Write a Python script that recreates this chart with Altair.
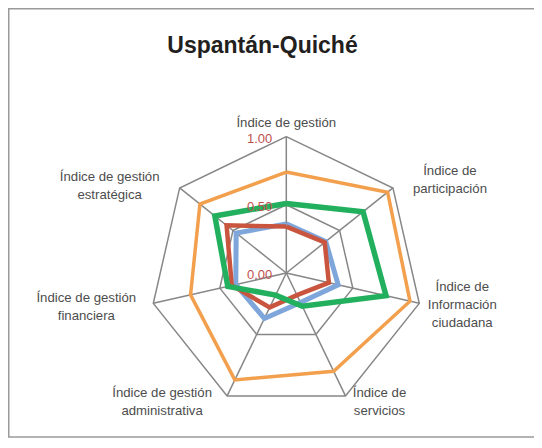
import altair as alt
import pandas as pd

# ---------------- data ----------------
categories = [
    "Índice de gestión",
    "Índice de participación",
    "Índice de Información ciudadana",
    "Índice de servicios",
    "Índice de gestión administrativa",
    "Índice de gestión financiera",
    "Índice de gestión estratégica",
]
axis_labels = [
    "Índice de gestión",
    "Índice de\nparticipación",
    "Índice de\nInformación\nciudadana",
    "Índice de\nservicios",
    "Índice de gestión\nadministrativa",
    "Índice de gestión\nfinanciera",
    "Índice de gestión\nestratégica",
]
series_names = ["Serie 1", "Serie 2", "Serie 3", "Serie 4"]
serie_orange = [0.74, 0.95, 0.93, 0.80, 0.87, 0.72, 0.81]
serie_green = [0.51, 0.72, 0.75, 0.27, 0.18, 0.44, 0.67]
serie_red = [0.34, 0.36, 0.32, 0.18, 0.28, 0.41, 0.56]
serie_blue = [0.36, 0.37, 0.39, 0.24, 0.37, 0.38, 0.47]
ring_levels = [0.5, 1.0]
tick_values = [0.0, 0.5, 1.0]
tick_labels = ["0.00", "0.50", "1.00"]
title_text = "Uspantán-Quiché"

# ---------------- layout ----------------
W, H = 526, 430
N = len(categories)
R = 136.4
CX, CY = 278.3, 265.0
xdom = [-CX / R, (W - CX) / R]
ydom = [-(H - CY) / R, CY / R]
xs = alt.Scale(domain=xdom, nice=False, zero=False)
ys = alt.Scale(domain=ydom, nice=False, zero=False)
FONT = "Liberation Sans"
LINE_H = 18

ANG = f"datum.idx * 2 * PI / {N}"


def polygon_rows(values, name):
    rows = []
    for k in range(N + 1):
        rows.append({"idx": k % N, "ord": k, "value": values[k % N], "serie": name})
    return rows


def series_layer(values, name, color, width):
    df = pd.DataFrame(polygon_rows(values, name))
    return (
        alt.Chart(df)
        .transform_calculate(
            px=f"datum.value * sin({ANG})", py=f"datum.value * cos({ANG})"
        )
        .mark_line(color=color, strokeWidth=width, strokeJoin="miter", clip=False)
        .encode(
            x=alt.X("px:Q", scale=xs, axis=None),
            y=alt.Y("py:Q", scale=ys, axis=None),
            order="ord:Q",
        )
    )


GRID = "#878787"

# rings
ring_rows = []
for lv in ring_levels:
    for k in range(N + 1):
        ring_rows.append({"idx": k % N, "ord": k, "value": lv, "ring": str(lv)})
rings = (
    alt.Chart(pd.DataFrame(ring_rows))
    .transform_calculate(px=f"datum.value * sin({ANG})", py=f"datum.value * cos({ANG})")
    .mark_line(color=GRID, strokeWidth=1.5)
    .encode(
        x=alt.X("px:Q", scale=xs, axis=None),
        y=alt.Y("py:Q", scale=ys, axis=None),
        detail="ring:N",
        order="ord:Q",
    )
)

# spokes
spoke_df = pd.DataFrame({"idx": list(range(N)), "cat": categories})
spokes = (
    alt.Chart(spoke_df)
    .transform_calculate(
        x0="0", y0="0", x1=f"sin({ANG})", y1=f"cos({ANG})"
    )
    .mark_rule(color=GRID, strokeWidth=1.5)
    .encode(
        x=alt.X("x0:Q", scale=xs, axis=None),
        y=alt.Y("y0:Q", scale=ys, axis=None),
        x2="x1:Q",
        y2="y1:Q",
    )
)

# axis category labels (pixel nudges of each text block centre from the spoke end)
label_nudge = [(0, -14), (57, -8), (43, 2), (34, 6), (-65, 6), (-67, 4), (-70, -2)]
label_df = pd.DataFrame({"idx": list(range(N)), "lab": axis_labels})
label_layers = []
for i in range(N):
    dx, dy = label_nudge[i]
    n_lines = axis_labels[i].count("\n") + 1
    dy = dy - (n_lines - 1) * LINE_H / 2
    label_layers.append(
        alt.Chart(label_df)
        .transform_filter(f"datum.idx == {i}")
        .transform_calculate(px=f"sin({ANG})", py=f"cos({ANG})")
        .mark_text(
            align="center", baseline="middle", dx=dx, dy=dy, lineBreak="\n",
            fontSize=13.2, font=FONT, color="#4d4d4d", lineHeight=LINE_H,
        )
        .encode(
            x=alt.X("px:Q", scale=xs, axis=None),
            y=alt.Y("py:Q", scale=ys, axis=None),
            text="lab:N",
        )
    )

# value tick labels
tick_df = pd.DataFrame({"v": tick_values, "t": tick_labels})
ticks = (
    alt.Chart(tick_df)
    .transform_calculate(px="0")
    .mark_text(align="right", baseline="middle", dx=-14, dy=2, fontSize=13,
               font=FONT, color="#C0504D")
    .encode(
        x=alt.X("px:Q", scale=xs, axis=None),
        y=alt.Y("v:Q", scale=ys, axis=None),
        text="t:N",
    )
)

# title
title = (
    alt.Chart(pd.DataFrame({"t": [title_text]}))
    .mark_text(align="center", baseline="middle", fontSize=23, fontWeight="bold",
               font=FONT, color="#231f20")
    .encode(x=alt.value(254.5), y=alt.value(38), text="t:N")
)

# frame
frame = (
    alt.Chart(pd.DataFrame({"f": [1]}))
    .mark_rect(fill=None, stroke="#9a9a9a", strokeWidth=1.5)
    .encode(x=alt.value(0.75), x2=alt.value(W + 20), y=alt.value(0.75), y2=alt.value(H - 1))
)

chart = (
    alt.layer(
        frame,
        rings,
        spokes,
        series_layer(serie_blue, series_names[3], "#7EA6DA", 5),
        series_layer(serie_red, series_names[2], "#C9553F", 4.5),
        series_layer(serie_green, series_names[1], "#22B05E", 5.5),
        series_layer(serie_orange, series_names[0], "#F2A04E", 3.5),
        ticks,
        *label_layers,
        title,
    )
    .properties(width=W, height=H, padding=0,
                autosize=alt.AutoSizeParams(type="none"))
    .configure_view(stroke=None)
)

chart.save("out.html", embed_options={"renderer": "svg", "actions": False})
